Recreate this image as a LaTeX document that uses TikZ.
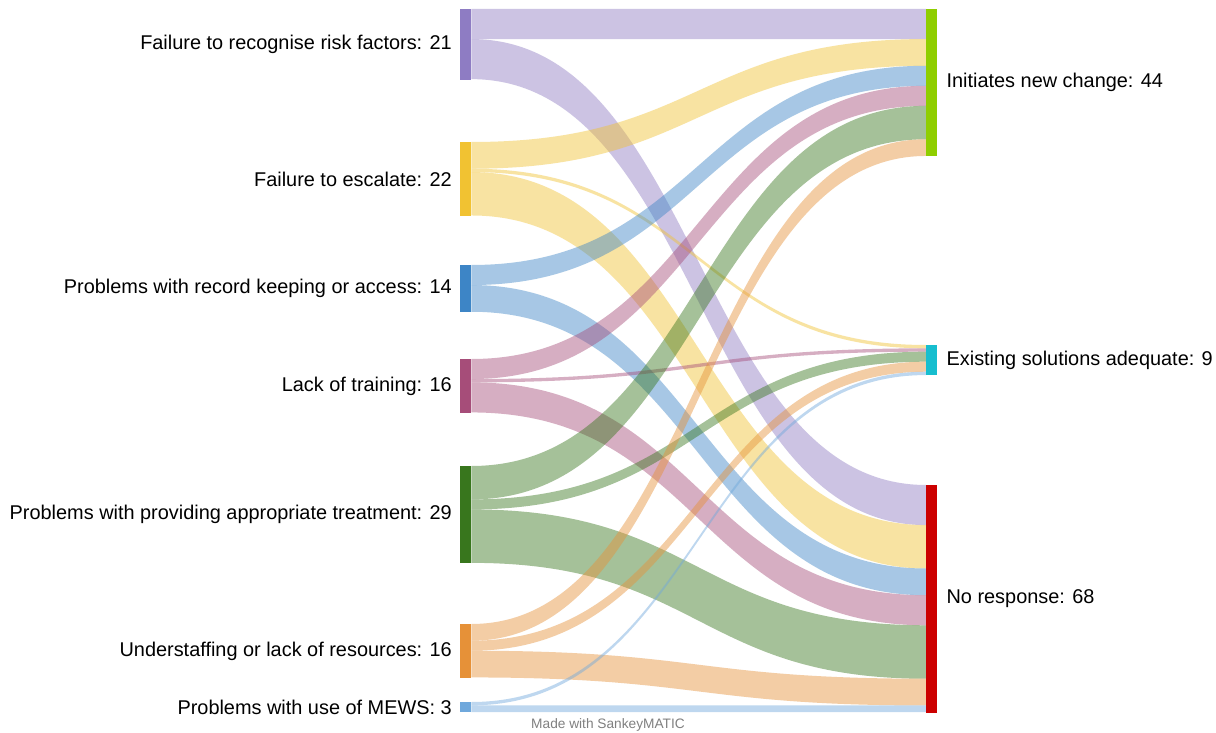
\documentclass[tikz,border=0pt]{standalone}
\usepackage{fontspec}
\setmainfont{Liberation Sans}
\usetikzlibrary{calc}

\definecolor{cRisk}{HTML}{8E7CC3}
\definecolor{cEscalate}{HTML}{F1C232}
\definecolor{cRecord}{HTML}{3D85C6}
\definecolor{cTraining}{HTML}{A64D79}
\definecolor{cTreatment}{HTML}{38761D}
\definecolor{cStaffing}{HTML}{E69138}
\definecolor{cMews}{HTML}{6FA8DC}
\definecolor{cChange}{HTML}{8FCE00}
\definecolor{cAdequate}{HTML}{17BECF}
\definecolor{cNoresp}{HTML}{CC0000}

\tikzset{
	bar/.style={rectangle, inner sep=0pt, minimum width=11pt, anchor=north west},
	lab/.style={font=\fontsize{19.9}{23}\selectfont, inner sep=0pt},
	band/.style={fill=#1, fill opacity=0.45},
}

% band: colour, source, offset, target, offset, value (1 unit = 3.34pt)
\newcommand{\flow}[6]{%
	\fill[band=#1] let \p1=($(#2.north east)+(0,-#3*3.34pt)$),
		\p2=($(#4.north west)+(0,-#5*3.34pt)$), \p3=($(\p1)!.5!(\p2)$) in
		(\p1) .. controls (\x3,\y1) and (\x3,\y2) .. (\p2)
		-- ++(0,-#6*3.34pt)
		.. controls (\x3,\y2-#6*3.34pt) and (\x3,\y1-#6*3.34pt) .. (\x1,\y1-#6*3.34pt) -- cycle;
}

\begin{document}
\begin{tikzpicture}[x=1pt, y=-1pt]
	\useasboundingbox (0,0) rectangle (1216,733);
	\fill[white] (0,0) rectangle (1216,733);

	% Левые узлы
	\node[bar, fill=cRisk, minimum height=70.14pt] (risk) at (460,9) {};
	\node[bar, fill=cEscalate, minimum height=73.48pt] (escalate) at (460,142) {};
	\node[bar, fill=cRecord, minimum height=46.76pt] (record) at (460,265) {};
	\node[bar, fill=cTraining, minimum height=53.44pt] (training) at (460,359) {};
	\node[bar, fill=cTreatment, minimum height=96.86pt] (treatment) at (460,466) {};
	\node[bar, fill=cStaffing, minimum height=53.44pt] (staffing) at (460,624) {};
	\node[bar, fill=cMews, minimum height=10.02pt] (mews) at (460,702) {};

	% Правые узлы
	\node[bar, fill=cChange, minimum height=146.96pt] (change) at (926,9) {};
	\node[bar, fill=cAdequate, minimum height=30.06pt] (adequate) at (926,345) {};
	\node[bar, fill=cNoresp, minimum height=227.12pt] (noresp) at (926,485) {};

	% Потоки
	\flow{cRisk}{risk}{0}{change}{0}{9}
	\flow{cRisk}{risk}{9}{noresp}{0}{12}
	\flow{cEscalate}{escalate}{0}{change}{9}{8}
	\flow{cEscalate}{escalate}{8}{adequate}{0}{1}
	\flow{cEscalate}{escalate}{9}{noresp}{12}{13}
	\flow{cRecord}{record}{0}{change}{17}{6}
	\flow{cRecord}{record}{6}{noresp}{25}{8}
	\flow{cTraining}{training}{0}{change}{23}{6}
	\flow{cTraining}{training}{6}{adequate}{1}{1}
	\flow{cTraining}{training}{7}{noresp}{33}{9}
	\flow{cTreatment}{treatment}{0}{change}{29}{10}
	\flow{cTreatment}{treatment}{10}{adequate}{2}{3}
	\flow{cTreatment}{treatment}{13}{noresp}{42}{16}
	\flow{cStaffing}{staffing}{0}{change}{39}{5}
	\flow{cStaffing}{staffing}{5}{adequate}{5}{3}
	\flow{cStaffing}{staffing}{8}{noresp}{58}{8}
	\flow{cMews}{mews}{0}{adequate}{8}{1}
	\flow{cMews}{mews}{1}{noresp}{66}{2}

	% Узлы поверх потоков
	\foreach \n/\c in {risk/cRisk, escalate/cEscalate, record/cRecord, training/cTraining,
		treatment/cTreatment, staffing/cStaffing, mews/cMews, change/cChange,
		adequate/cAdequate, noresp/cNoresp}
		\fill[\c] (\n.north west) rectangle (\n.south east);

	% Подписи
	\node[lab, anchor=east] (risk-l) at ($(risk.west)+(-8pt,0)$) {Failure to recognise risk factors: 21};
	\node[lab, anchor=east] (escalate-l) at ($(escalate.west)+(-8pt,0)$) {Failure to escalate: 22};
	\node[lab, anchor=east] (record-l) at ($(record.west)+(-8pt,0)$) {Problems with record keeping or access: 14};
	\node[lab, anchor=east] (training-l) at ($(training.west)+(-8pt,0)$) {Lack of training: 16};
	\node[lab, anchor=east] (treatment-l) at ($(treatment.west)+(-8pt,0)$) {Problems with providing appropriate treatment: 29};
	\node[lab, anchor=east] (staffing-l) at ($(staffing.west)+(-8pt,0)$) {Understaffing or lack of resources: 16};
	\node[lab, anchor=east] (mews-l) at ($(mews.west)+(-8pt,0)$) {Problems with use of MEWS: 3};
	\node[lab, anchor=west] (change-l) at ($(change.east)+(9pt,0)$) {Initiates new change: 44};
	\node[lab, anchor=west] (adequate-l) at ($(adequate.east)+(9pt,0)$) {Existing solutions adequate: 9};
	\node[lab, anchor=west] (noresp-l) at ($(noresp.east)+(9pt,0)$) {No response: 68};

	\node[font=\fontsize{13.7}{16}\selectfont, text=black!50, inner sep=0pt] (credit) at (608,725) {Made with SankeyMATIC};
\end{tikzpicture}
\end{document}
